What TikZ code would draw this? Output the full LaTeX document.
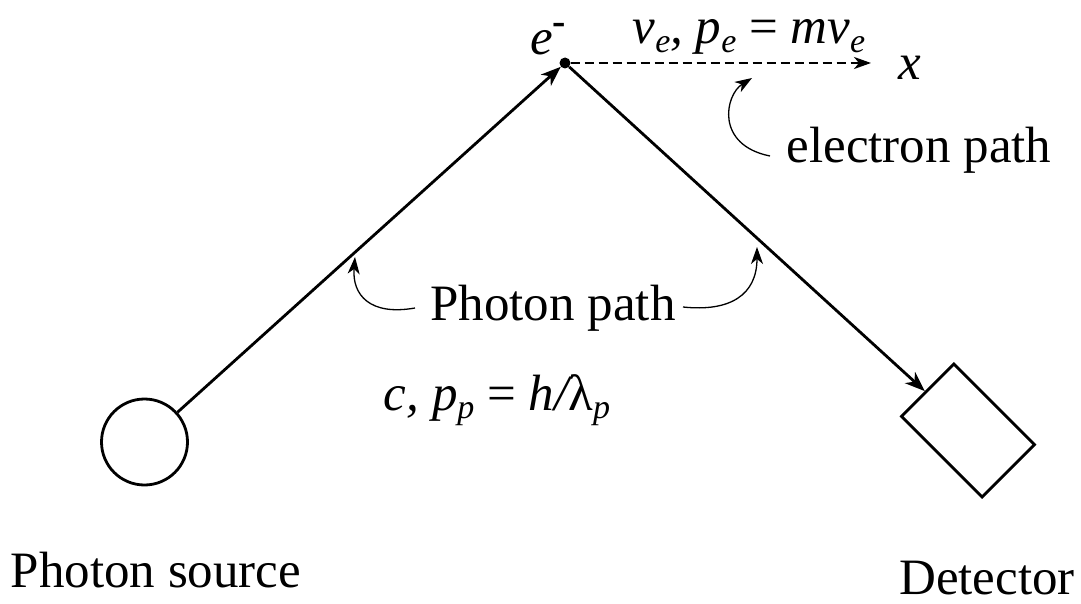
\documentclass[tikz,border=0pt]{standalone}
\usepackage{fontspec}
\setmainfont{Liberation Serif}
\usetikzlibrary{arrows.meta}
\newcommand\sbs[1]{\raisebox{-0.17em}{\fontsize{34}{34}\selectfont #1}}
\newcommand\sps[1]{\raisebox{0.40em}{\fontsize{40}{40}\selectfont #1}}
\begin{document}
\begin{tikzpicture}[x=1pt,y=-1pt,
  lbl/.style={font=\fontsize{51}{51}\selectfont, inner sep=0pt, anchor=base},
  thick line/.style={line width=2.8pt},
  tip/.style={-{Stealth[length=20pt,width=15pt,inset=6pt]}},
  small tip/.style={-{Stealth[length=17pt,width=12pt,inset=5pt]}},
  pointer/.style={line width=1.3pt}]
\useasboundingbox (0,0) rectangle (1081,604);
% shapes
\node[circle, draw, thick line, minimum size=86pt, inner sep=0pt] (src) at (144.5,442) {};
\node[circle, fill, minimum size=11pt, inner sep=0pt] (el) at (565,63) {};
\node[draw, thick line, rotate=-45, minimum width=114pt, minimum height=74pt, inner sep=0pt] (det) at (968,430.5) {};
\coordinate (xend) at (871,63);
% connectors
\draw[thick line, tip] (src) -- (el);
\draw[thick line, tip] (el) -- (det);
\draw[thick line, small tip, dash pattern=on 9pt off 5pt] (el.east) -- (xend);
% labels
\node[lbl] (elab) at (548,55) {\itshape e\sps{\upshape\bfseries -}};
\node[lbl] (vlab) at (749,44) {\itshape v\sbs{e}, p\sbs{e} \upshape= \itshape mv\sbs{e}};
\node[lbl] (xlab) at (910,80) {\itshape x};
\node[lbl] (eplab) at (919,163) {electron path};
\node[lbl] (pplab) at (553,320) {Photon path};
\node[lbl] (clab) at (497,410) {\itshape c, p\sbs{p} \upshape= \itshape h/\upshape λ\sbs{\itshape p}};
\node[lbl] (pslab) at (156,587) {Photon source};
\node[lbl, text depth=0pt] (dlab) at (987,594) {Detector};
% pointer arrows
\coordinate (ep0) at (770,156);
\coordinate (ep1) at (752,78);
\draw[pointer, small tip] (ep0) .. controls (715,145) and (725,95) .. (ep1);
\coordinate (pl0) at (415,308);
\coordinate (pl1) at (355,257);
\draw[pointer, small tip] (pl0) .. controls (370,316) and (352,295) .. (pl1);
\coordinate (pr0) at (683,307);
\coordinate (pr1) at (757,247);
\draw[pointer, small tip] (pr0) .. controls (730,312) and (757,295) .. (pr1);
\end{tikzpicture}
\end{document}
